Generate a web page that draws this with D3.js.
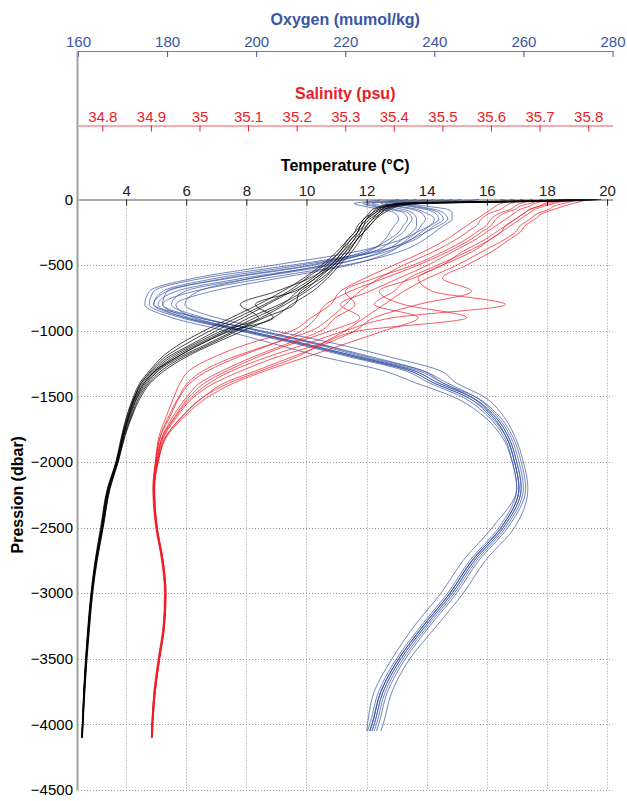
<!DOCTYPE html>
<meta charset="utf-8">
<style>
  body { margin: 0; background: #fff; }
  text { font-family: "Liberation Sans", Arial, Helvetica, sans-serif; }
</style>
<script src="https://d3js.org/d3.v7.min.js"></script>
<div id="chart"></div>
<script>

// pressure levels of the casts (dbar, positive down)
var pres   = [0, 10, 20, 30, 50, 75, 100, 150, 200, 250, 300, 400, 500, 600, 700, 800, 900, 1000, 1100, 1200, 1300, 1400, 1500, 1650, 1800, 2000, 2200, 2500, 2750, 3000, 3250, 3500, 3750, 4000, 4100];
var presOx = [0, 10, 20, 30, 50, 75, 100, 150, 200, 250, 300, 400, 500, 600, 700, 800, 900, 1000, 1100, 1200, 1300, 1400, 1500, 1650, 1800, 2000, 2200, 2500, 2750, 3000, 3250, 3500, 3750, 4000, 4050];

// temperature (degC), one array per cast
var tempProfiles = [
  [19.6, 18.9, 16.2, 13.4, 12.9, 12.6, 12.5, 12.2, 12.0, 11.9, 11.7, 11.4, 11.0, 10.6, 10.0, 9.3, 8.5, 7.6, 6.7, 5.8, 5.1, 4.7, 4.4, 4.15, 3.93, 3.72, 3.45, 3.22, 3.02, 2.87, 2.77, 2.68, 2.61, 2.56, 2.54],
  [19.2, 17.6, 15.0, 13.2, 12.6, 12.4, 12.3, 12.0, 11.8, 11.7, 11.5, 11.1, 10.7, 10.2, 9.5, 8.7, 7.9, 7.0, 6.2, 5.4, 4.9, 4.5, 4.3, 4.06, 3.88, 3.68, 3.40, 3.18, 2.99, 2.85, 2.75, 2.66, 2.60, 2.55, 2.53],
  [19.7, 18.4, 15.8, 13.8, 13.0, 12.7, 12.5, 12.3, 12.1, 11.9, 11.8, 11.5, 11.1, 10.7, 10.2, 9.5, 8.9, 7.9, 6.9, 6.0, 5.3, 4.8, 4.5, 4.2, 3.97, 3.74, 3.47, 3.24, 3.04, 2.89, 2.79, 2.70, 2.63, 2.57, 2.55],
  [18.8, 17.2, 14.6, 13.0, 12.5, 12.2, 12.1, 11.9, 11.7, 11.6, 11.4, 11.0, 10.5, 9.9, 9.2, 8.4, 7.5, 6.6, 5.8, 5.2, 4.8, 4.45, 4.25, 4.02, 3.85, 3.66, 3.38, 3.15, 2.97, 2.83, 2.73, 2.65, 2.59, 2.54, 2.52],
  [19.4, 18.2, 15.6, 13.6, 12.8, 12.5, 12.4, 12.1, 11.9, 11.8, 11.6, 11.3, 10.9, 10.4, 9.9, 9.1, 8.1, 7.3, 6.4, 5.6, 5.0, 4.6, 4.35, 4.1, 3.90, 3.70, 3.42, 3.20, 3.00, 2.85, 2.75, 2.67, 2.60, 2.55, 2.53],
  [19.0, 17.8, 15.2, 13.4, 12.7, 12.4, 12.2, 12.0, 11.8, 11.7, 11.5, 11.2, 10.8, 10.1, 9.0, 7.8, 8.4, 7.2, 6.3, 5.5, 4.95, 4.55, 4.3, 4.08, 3.89, 3.69, 3.41, 3.19, 3.00, 2.86, 2.76, 2.67, 2.60, 2.55, 2.53],
  [19.5, 18.6, 16.4, 13.9, 13.1, 12.8, 12.6, 12.3, 12.1, 11.9, 11.7, 11.4, 11.0, 10.5, 9.8, 9.6, 8.6, 7.7, 6.8, 5.9, 5.2, 4.75, 4.45, 4.18, 3.95, 3.73, 3.46, 3.23, 3.03, 2.88, 2.78, 2.69, 2.62, 2.56, 2.54],
  [19.1, 17.4, 14.9, 13.1, 12.6, 12.3, 12.2, 11.9, 11.8, 11.6, 11.4, 11.1, 10.6, 10.0, 9.4, 8.6, 7.7, 6.8, 6.0, 5.3, 4.85, 4.5, 4.28, 4.04, 3.87, 3.67, 3.39, 3.17, 2.98, 2.84, 2.74, 2.66, 2.59, 2.55, 2.53],
  [19.8, 18.8, 16.0, 13.5, 12.9, 12.6, 12.4, 12.2, 12.0, 11.8, 11.7, 11.3, 10.9, 10.3, 9.7, 9.2, 8.3, 7.4, 6.5, 5.7, 5.05, 4.65, 4.38, 4.12, 3.92, 3.71, 3.44, 3.21, 3.01, 2.86, 2.76, 2.68, 2.61, 2.56, 2.54],
  [19.3, 18.1, 15.4, 13.3, 12.7, 12.5, 12.3, 12.0, 11.9, 11.7, 11.6, 11.2, 10.8, 10.3, 9.6, 8.3, 8.9, 7.5, 6.5, 5.7, 5.0, 4.6, 4.33, 4.09, 3.90, 3.70, 3.43, 3.20, 3.00, 2.85, 2.75, 2.67, 2.60, 2.55, 2.53]
];

// salinity (psu)
var salProfiles = [
  [35.76, 35.77, 35.76, 35.75, 35.73, 35.72, 35.70, 35.68, 35.66, 35.65, 35.63, 35.58, 35.53, 35.47, 35.42, 35.38, 35.34, 35.30, 35.25, 35.20, 35.13, 35.06, 35.01, 34.965, 34.932, 34.914, 34.907, 34.913, 34.925, 34.931, 34.928, 34.918, 34.909, 34.904, 34.903],
  [35.64, 35.65, 35.65, 35.64, 35.63, 35.62, 35.60, 35.58, 35.57, 35.55, 35.53, 35.48, 35.42, 35.37, 35.33, 35.30, 35.27, 35.23, 35.15, 35.07, 35.01, 34.975, 34.958, 34.937, 34.920, 34.910, 34.905, 34.911, 34.923, 34.929, 34.926, 34.916, 34.907, 34.902, 34.901],
  [35.72, 35.73, 35.72, 35.71, 35.70, 35.68, 35.67, 35.65, 35.63, 35.61, 35.59, 35.54, 35.50, 35.45, 35.48, 35.63, 35.40, 35.30, 35.22, 35.14, 35.07, 35.02, 34.985, 34.952, 34.926, 34.913, 34.907, 34.912, 34.924, 34.930, 34.927, 34.917, 34.908, 34.903, 34.902],
  [35.68, 35.69, 35.69, 35.68, 35.66, 35.65, 35.63, 35.61, 35.60, 35.58, 35.56, 35.51, 35.45, 35.38, 35.31, 35.26, 35.24, 35.21, 35.15, 35.08, 35.02, 34.98, 34.96, 34.94, 34.920, 34.910, 34.905, 34.911, 34.923, 34.929, 34.926, 34.916, 34.907, 34.902, 34.901],
  [35.74, 35.75, 35.74, 35.73, 35.71, 35.69, 35.68, 35.66, 35.64, 35.62, 35.60, 35.56, 35.50, 35.44, 35.37, 35.42, 35.55, 35.33, 35.25, 35.16, 35.09, 35.03, 34.99, 34.955, 34.928, 34.913, 34.906, 34.912, 34.924, 34.930, 34.927, 34.917, 34.908, 34.903, 34.902],
  [35.66, 35.67, 35.67, 35.66, 35.65, 35.64, 35.62, 35.60, 35.59, 35.57, 35.55, 35.50, 35.44, 35.36, 35.30, 35.32, 35.28, 35.25, 35.18, 35.11, 35.05, 35.00, 34.975, 34.946, 34.924, 34.911, 34.906, 34.912, 34.924, 34.930, 34.927, 34.917, 34.908, 34.903, 34.902],
  [35.78, 35.79, 35.78, 35.77, 35.75, 35.73, 35.71, 35.69, 35.67, 35.66, 35.64, 35.60, 35.55, 35.50, 35.56, 35.45, 35.36, 35.32, 35.26, 35.19, 35.12, 35.05, 35.01, 34.965, 34.932, 34.915, 34.908, 34.913, 34.925, 34.931, 34.928, 34.918, 34.909, 34.904, 34.903],
  [35.70, 35.71, 35.70, 35.69, 35.68, 35.66, 35.65, 35.63, 35.61, 35.59, 35.57, 35.52, 35.47, 35.41, 35.35, 35.29, 35.33, 35.27, 35.19, 35.12, 35.06, 35.01, 34.98, 34.95, 34.925, 34.912, 34.906, 34.912, 34.924, 34.930, 34.927, 34.917, 34.908, 34.903, 34.902],
  [35.62, 35.63, 35.63, 35.62, 35.61, 35.60, 35.59, 35.57, 35.55, 35.53, 35.51, 35.46, 35.40, 35.34, 35.29, 35.27, 35.23, 35.19, 35.10, 35.03, 34.98, 34.96, 34.948, 34.932, 34.917, 34.909, 34.904, 34.910, 34.922, 34.928, 34.925, 34.915, 34.906, 34.902, 34.901],
  [35.73, 35.74, 35.73, 35.72, 35.70, 35.68, 35.67, 35.65, 35.63, 35.62, 35.60, 35.55, 35.49, 35.43, 35.40, 35.36, 35.45, 35.38, 35.30, 35.22, 35.14, 35.07, 35.02, 34.97, 34.934, 34.915, 34.907, 34.913, 34.925, 34.931, 34.928, 34.918, 34.909, 34.904, 34.903]
];

// dissolved oxygen (umol/kg)
var oxyProfiles = [
  [240, 238, 233, 229, 232, 236, 238, 240, 239, 237, 235, 229, 216, 197, 182, 178, 184, 197, 210, 222, 234, 240, 247, 253, 256, 258, 259, 255, 248.5, 243.5, 237.5, 232, 228, 226, 225.5],
  [246, 244, 238, 233, 236, 240, 242, 243, 241, 238, 236, 226, 208, 188, 177, 176, 183, 196, 209, 221, 233, 239, 246, 252, 255.5, 257.5, 258.5, 254.5, 248, 243, 237, 231.5, 227.5, 225.5, 225],
  [232, 230, 226, 224, 226, 230, 233, 234, 233, 232, 230, 224, 212, 193, 180, 177, 187, 201, 214, 225, 237, 242, 249, 254.5, 257.5, 259.5, 260.5, 256.5, 250, 245, 239, 233.5, 229.5, 227.5, 227],
  [250, 247, 240, 235, 238, 243, 244, 244, 242, 240, 238, 232, 220, 202, 186, 179, 185, 198, 211, 223, 235, 241, 248, 253.5, 256.5, 258.5, 259.5, 255.5, 249, 244, 238, 232.5, 228.5, 226.5, 226],
  [236, 234, 229, 226, 229, 233, 235, 236, 236, 235, 233, 228, 217, 199, 184, 181, 188, 200, 213, 224, 236, 242, 248, 253, 256, 258, 259, 255, 248.5, 243.5, 237.5, 232, 228, 226, 225.5],
  [242, 240, 235, 231, 234, 238, 240, 241, 239, 236, 233, 222, 204, 186, 176, 175, 181, 193, 204, 215, 228, 236, 244, 251, 255, 257.5, 258.5, 253, 246.5, 241.5, 235.5, 230.5, 226.5, 225, 224.8],
  [228, 227, 224, 222, 224, 228, 231, 232, 231, 230, 229, 225, 215, 199, 187, 184, 191, 204, 218, 230, 241, 245, 251, 255.5, 258, 260, 261, 258, 251.5, 246.5, 240.5, 234.5, 230.5, 228.5, 228],
  [244, 242, 236, 232, 235, 239, 241, 242, 240, 238, 235, 227, 210, 191, 179, 177, 184, 197, 210, 222, 234, 240, 247, 252.5, 256, 258, 259, 255, 248.5, 243.5, 237.5, 232, 228, 226, 225.5],
  [238, 236, 231, 228, 231, 235, 237, 238, 237, 236, 234, 230, 221, 205, 190, 182, 186, 198, 211, 223, 235, 241, 248, 253.5, 256.5, 258.5, 259.5, 255.5, 249, 244, 238, 232.5, 228.5, 226.5, 226],
  [234, 232, 228, 225, 227, 231, 234, 235, 234, 233, 231, 226, 213, 194, 180, 179, 187, 201, 214, 226, 237, 243, 249, 254, 257, 259, 260, 256, 249.5, 244.5, 238.5, 233, 229, 227, 226.5]
];

// tick labels
var tempTicks = [4, 6, 8, 10, 12, 14, 16, 18, 20];
var salTicks  = [34.8, 34.9, 35, 35.1, 35.2, 35.3, 35.4, 35.5, 35.6, 35.7, 35.8];
var oxyTicks  = [160, 180, 200, 220, 240, 260, 280];
var presTicks = [0, -500, -1000, -1500, -2000, -2500, -3000, -3500, -4000, -4500];

var blue = "#3a55a5", red = "#ee1c25";

// plot area
var W = 627, H = 801;
var margin = {left: 78, right: 612.5, top: 199.5, bottom: 790};

var svg = d3.select("#chart")
  .append("svg")
    .attr("width", W)
    .attr("height", H);

var y  = d3.scaleLinear().domain([-4500, 0]).range([margin.bottom, margin.top]);
var xT = d3.scaleLinear().domain([2.4, 20.18]).range([margin.left, margin.right]);
var xS = d3.scaleLinear().domain([34.75, 35.85]).range([margin.left, margin.right]);
var xO = d3.scaleLinear().domain([160, 280]).range([margin.left, margin.right]);

// dotted grid
var grid = svg.append("g")
  .attr("stroke", "#999")
  .attr("stroke-width", 1)
  .attr("stroke-dasharray", "1,2");
grid.selectAll(".vg").data(tempTicks).enter().append("line")
  .attr("x1", function(d) { return Math.round(xT(d)) + 0.5; })
  .attr("x2", function(d) { return Math.round(xT(d)) + 0.5; })
  .attr("y1", margin.top).attr("y2", margin.bottom);
grid.selectAll(".hg").data(presTicks.slice(1)).enter().append("line")
  .attr("y1", function(d) { return Math.round(y(d)) + 0.5; })
  .attr("y2", function(d) { return Math.round(y(d)) + 0.5; })
  .attr("x1", margin.left).attr("x2", margin.right);

// profiles
function drawProfiles(profiles, levels, xs, color) {
  var line = d3.line()
    .x(function(d) { return xs(d[1]); })
    .y(function(d) { return y(-d[0]); })
    .curve(d3.curveMonotoneY);
  svg.append("g").selectAll("path")
    .data(profiles)
    .enter().append("path")
      .attr("d", function(p) { return line(p.map(function(v, i) { return [levels[i], v]; })); })
      .attr("fill", "none")
      .attr("stroke", color)
      .attr("stroke-width", 0.85)
      .attr("stroke-opacity", 0.85);
}
drawProfiles(oxyProfiles, presOx, xO, blue);
drawProfiles(salProfiles, pres, xS, red);
drawProfiles(tempProfiles, pres, xT, "#000");

// axes
function topAxis(scale, ticks, yPos, color, fmt) {
  var g = svg.append("g")
    .attr("transform", "translate(0," + yPos + ")")
    .call(d3.axisTop(scale).tickValues(ticks).tickSizeInner(-6).tickSizeOuter(0).tickPadding(4).tickFormat(fmt));
  g.select(".domain").attr("stroke", color).attr("stroke-opacity", 0.75);
  g.selectAll(".tick line").attr("stroke", color);
  g.selectAll(".tick text").attr("fill", color).style("font-size", "15px");
  return g;
}
topAxis(xO, oxyTicks, 51, blue, d3.format("d"));
topAxis(xS, salTicks, 125.5, red, function(d) { return String(d); });
topAxis(xT, tempTicks, 199.5, "#222", d3.format("d"));

var yAxis = svg.append("g")
  .attr("transform", "translate(" + margin.left + ",0)")
  .call(d3.axisLeft(y).tickValues(presTicks).tickSize(0).tickPadding(5).tickFormat(d3.format("d")));
yAxis.select(".domain").remove();
yAxis.selectAll(".tick text").attr("fill", "#000").style("font-size", "15px");

// left axis line, spans all three x axes
svg.append("line")
  .attr("x1", margin.left - 0.5).attr("x2", margin.left - 0.5)
  .attr("y1", 51).attr("y2", margin.bottom)
  .attr("stroke", "#a0a0a0")
  .attr("stroke-width", 2);

// titles
function title(txt, x, yy, color) {
  svg.append("text")
    .attr("x", x).attr("y", yy)
    .attr("text-anchor", "middle")
    .attr("fill", color)
    .style("font-size", "16px")
    .style("font-weight", "bold")
    .text(txt);
}
var mid = (margin.left + margin.right) / 2;
title("Oxygen (mumol/kg)", mid, 25, blue);
title("Salinity (psu)", mid, 99, red);
title("Temperature (\u00b0C)", mid, 171, "#000");

svg.append("text")
  .attr("transform", "translate(23," + ((margin.top + margin.bottom) / 2) + ") rotate(-90)")
  .attr("text-anchor", "middle")
  .style("font-size", "16px")
  .style("font-weight", "bold")
  .text("Pression (dbar)");

</script>
